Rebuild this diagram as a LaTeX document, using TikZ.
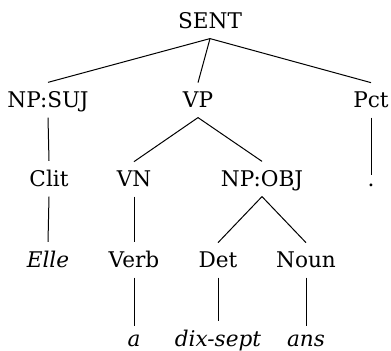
\documentclass[tikz,border=0pt]{standalone}
\usepackage{fontspec}
\setmainfont{DejaVu Serif}
\begin{document}
\begin{tikzpicture}[x=0.5pt,y=-0.5pt,
  tn/.style={anchor=base, inner xsep=2pt, inner ysep=4.6pt, text depth=0pt, font=\fontsize{10.8}{13}\selectfont},
  edge/.style={draw=black, line width=0.5pt}]
\useasboundingbox (0,0) rectangle (391,351);
\node[tn] (SENT) at (210,29) {SENT};
\node[tn] (NPSUJ) at (48,108) {NP:SUJ};
\node[tn] (VP) at (198,108) {VP};
\node[tn] (Pct) at (371,108) {Pct};
\node[tn] (Clit) at (49,187) {Clit};
\node[tn] (VN) at (134,187) {VN};
\node[tn] (NPOBJ) at (262,187) {NP:OBJ};
\node[tn] (dot) at (371,187) {.};
\node[tn] (Elle) at (48,268) {\textit{Elle}};
\node[tn] (Verb) at (134,268) {Verb};
\node[tn] (Det) at (218,268) {Det};
\node[tn] (Noun) at (306,268) {Noun};
\node[tn] (a) at (134,347) {\textit{a}};
\node[tn] (dixsept) at (218,347) {\textit{dix-sept}};
\node[tn] (ans) at (306,347) {\textit{ans}};
\path[edge] (SENT.south) -- (NPSUJ.north);
\path[edge] (SENT.south) -- (VP.north);
\path[edge] (SENT.south) -- (Pct.north);
\path[edge] (NPSUJ.south) -- (Clit.north);
\path[edge] (VP.south) -- (VN.north);
\path[edge] (VP.south) -- (NPOBJ.north);
\path[edge] (Pct.south) -- (dot.north);
\path[edge] (Clit.south) -- (Elle.north);
\path[edge] (VN.south) -- (Verb.north);
\path[edge] (NPOBJ.south) -- (Det.north);
\path[edge] (NPOBJ.south) -- (Noun.north);
\path[edge] (Verb.south) -- (a.north);
\path[edge] (Det.south) -- (dixsept.north);
\path[edge] (Noun.south) -- (ans.north);
\end{tikzpicture}
\end{document}
